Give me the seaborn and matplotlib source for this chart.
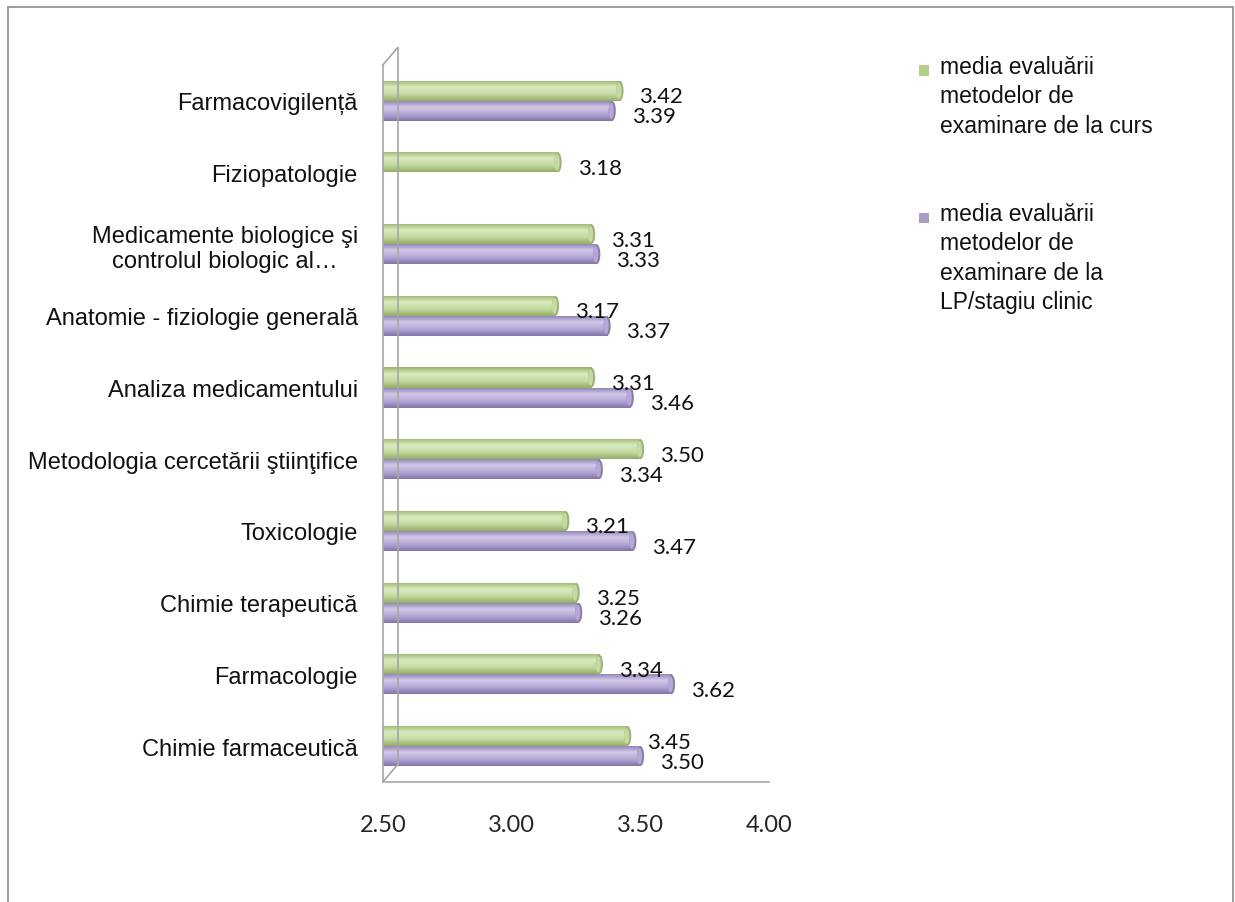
import numpy as np
import pandas as pd
import matplotlib
matplotlib.use("Agg")
import matplotlib.pyplot as plt
import seaborn as sns
from matplotlib.colors import LinearSegmentedColormap
from matplotlib.patches import Rectangle, Ellipse
from matplotlib.ticker import FixedLocator

materii = ["Farmacovigilență", "Fiziopatologie",
           "Medicamente biologice şi\ncontrolul biologic al…",
           "Anatomie - fiziologie generală", "Analiza medicamentului",
           "Metodologia cercetării ştiinţifice", "Toxicologie",
           "Chimie terapeutică", "Farmacologie", "Chimie farmaceutică"]
curs = [3.42, 3.18, 3.31, 3.17, 3.31, 3.50, 3.21, 3.25, 3.34, 3.45]
lp = [3.39, np.nan, 3.33, 3.37, 3.46, 3.34, 3.47, 3.26, 3.62, 3.50]
serii = ["media evaluării\nmetodelor de\nexaminare de la curs",
         "media evaluării\nmetodelor de\nexaminare de la\nLP/stagiu clinic"]
culori = ["#B5CE8C", "#AA9DC8"]
gradienti = [["#9CB66F", "#D9EABF", "#C4DAA2", "#93AE66"],
             ["#8B7DB0", "#D2C8E8", "#B5A8D6", "#8474AA"]]
xmin, xmax = 2.5, 4.0

df = pd.DataFrame({"materie": materii * 2,
                   "valoare": curs + lp,
                   "serie": [serii[0]] * len(materii) + [serii[1]] * len(materii)})

sns.set_style("white")
plt.rcParams["font.family"] = ["Liberation Sans", "DejaVu Sans"]
num_font = ["Lato", "DejaVu Sans"]

fig = plt.figure(figsize=(12.35, 9.03), dpi=100)
ax = fig.add_axes([0.310, 0.133, 0.313, 0.794])

sns.barplot(data=df, y="materie", x="valoare", hue="serie", orient="h",
            palette=culori, width=0.56, legend=False, ax=ax,
            linewidth=0, errorbar=None)

ax.set_xlim(xmin, xmax)
ylim = ax.get_ylim()

# efect cilindru: barele pornesc de la axa (2.50), gradient vertical, capat eliptic
nbar = len(materii)
for i, p in enumerate(ax.patches[:2 * nbar]):
    val = p.get_x() + p.get_width()
    if not np.isfinite(val):
        continue
    s = i // nbar
    p.set_x(xmin)
    p.set_width(val - xmin)
    y0, h = p.get_y(), p.get_height()
    cmap = LinearSegmentedColormap.from_list("g%d" % s, gradienti[s])
    grad = np.linspace(0, 1, 64).reshape(-1, 1)
    im = ax.imshow(grad, extent=[xmin, val, y0 + h, y0], aspect="auto",
                   cmap=cmap, origin="upper", zorder=2)
    im.set_clip_path(p)
    ax.add_patch(Ellipse((val, y0 + h / 2), 0.028, h * 0.98,
                         facecolor=gradienti[s][0], edgecolor="none", zorder=3))
    ax.add_patch(Ellipse((val - 0.004, y0 + h / 2), 0.02, h * 0.8,
                         facecolor=gradienti[s][2], edgecolor="none", zorder=3))
    ax.annotate("%.2f" % val, xy=(val, y0 + h / 2), xytext=(14, -4),
                textcoords="offset points", ha="left", va="center",
                fontsize=16, family=num_font, color="#111111")

ax.set_ylim(ylim)
ax.set_xlabel("")
ax.set_ylabel("")

gri = "#A6A6A6"
for sp in ["top", "right"]:
    ax.spines[sp].set_visible(False)
for sp in ["left", "bottom"]:
    ax.spines[sp].set_color(gri)
    ax.spines[sp].set_linewidth(1.2)

xt = [2.5, 3.0, 3.5, 4.0]
ax.set_xticks(xt)
ax.set_xticklabels(["%.2f" % v for v in xt], fontsize=17, family=num_font)
ax.tick_params(axis="x", direction="out", length=7, width=1.2, color=gri, pad=16)
ax.tick_params(axis="y", which="major", length=0, pad=18, labelsize=17)
ax.yaxis.set_minor_locator(FixedLocator(np.arange(-0.5, len(materii), 1.0)))
ax.tick_params(axis="y", which="minor", direction="out", length=7, width=1.2, color=gri)
for t in ax.get_yticklabels():
    t.set_multialignment("center")
    t.set_color("#111111")
ax.grid(False)

# perete 3D
trans = ax.transAxes
dx, dy = 0.038, 0.024
ax.plot([dx, dx], [dy, 1 + dy], color=gri, lw=1.2, transform=trans, clip_on=False)
ax.plot([0, dx], [0, dy], color=gri, lw=1.2, transform=trans, clip_on=False)
ax.plot([0, dx], [1, 1 + dy], color=gri, lw=1.2, transform=trans, clip_on=False)

# legenda
ly = [0.922, 0.759]
for s in range(2):
    fig.patches.append(Rectangle((0.744, ly[s] - 0.007), 0.0085, 0.0115,
                                 transform=fig.transFigure, facecolor=culori[s],
                                 edgecolor="none"))
    fig.text(0.761, ly[s] + 0.016, serii[s], ha="left", va="top", fontsize=16.5,
             linespacing=1.35, color="#111111")

# chenar
fig.patches.append(Rectangle((8 / 1235, -0.05), 1225 / 1235, 0.05 + 1 - 8 / 903,
                             transform=fig.transFigure, facecolor="none",
                             edgecolor="#8C8C8C", lw=1.2))

fig.savefig("out.png", dpi=100)
